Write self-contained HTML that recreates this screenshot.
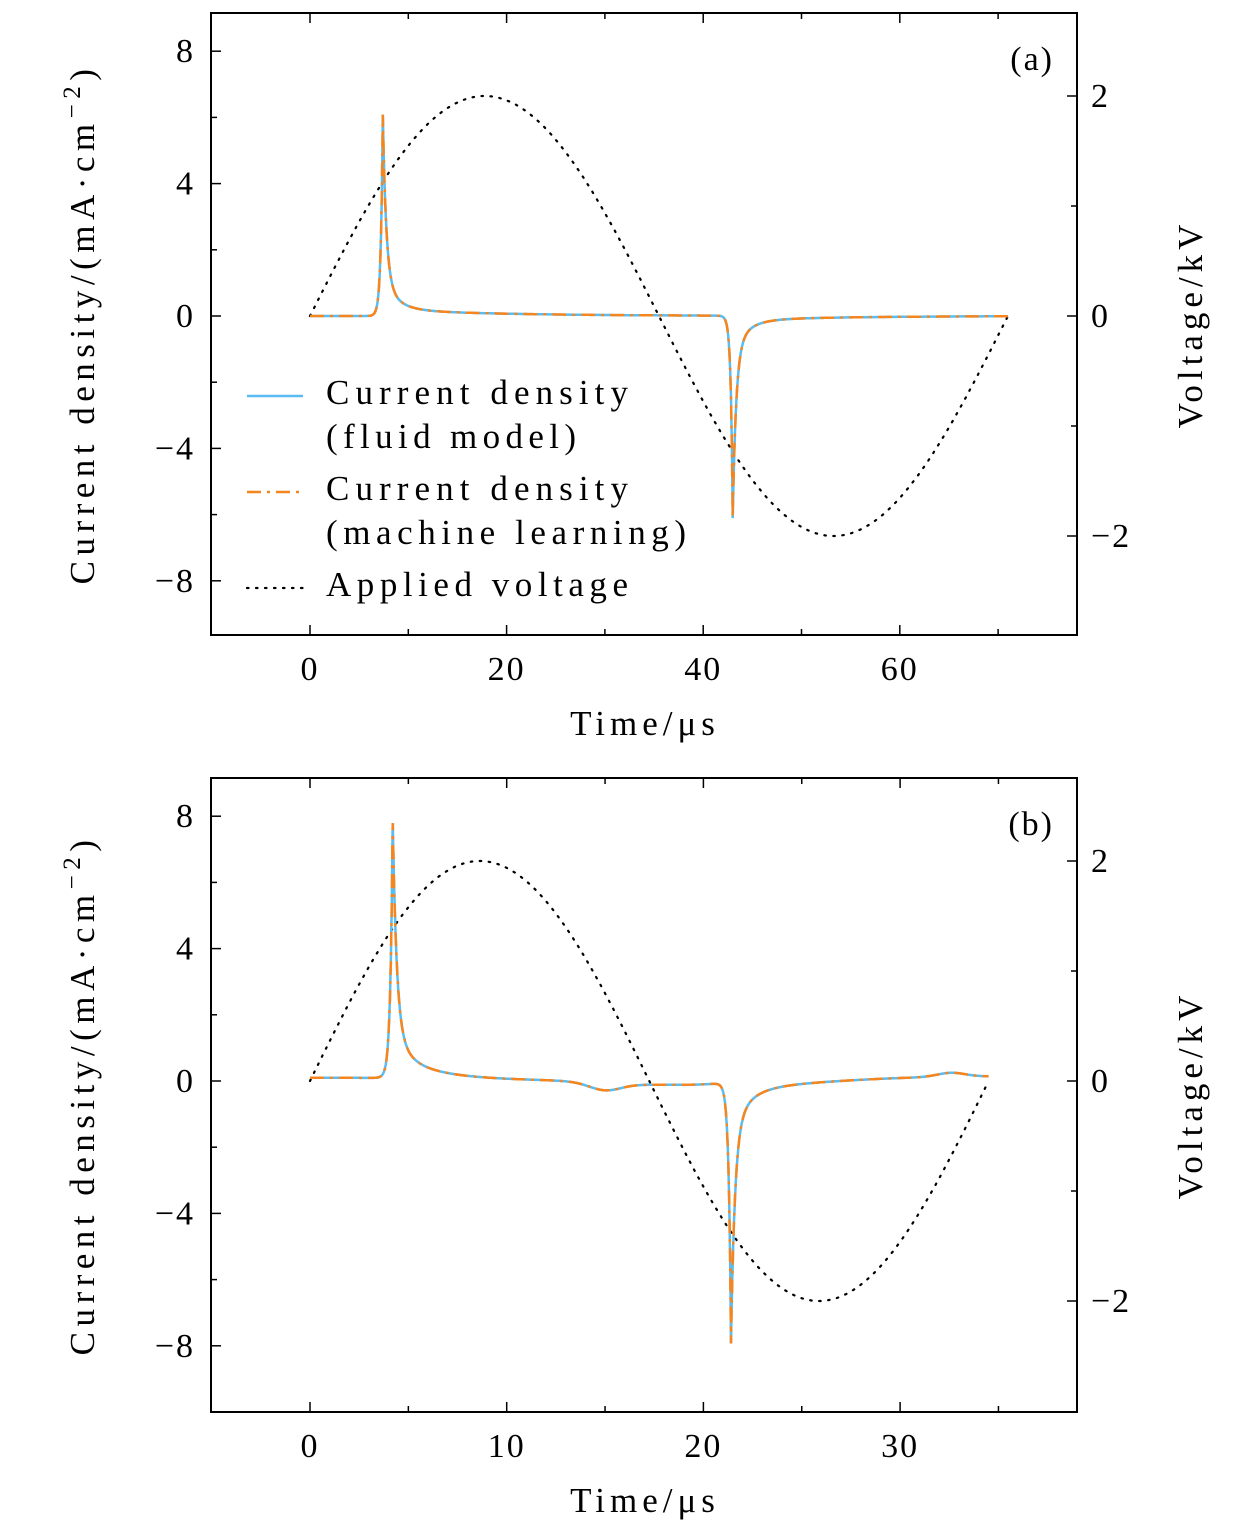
<!DOCTYPE html>
<html><head><meta charset="utf-8"><style>
body{margin:0;background:#fff}
svg text{font-family:"Liberation Serif",serif;fill:#000}
</style></head><body>
<svg id="s" width="1260" height="1530" xmlns="http://www.w3.org/2000/svg"></svg>
<script>
const S=document.getElementById('s');
let h='';
function panel(o){
 const {top,bot,x0,xs,y0,ys,vy,tmax,xt,label,jfun}=o;
 const L=211,R=1077;
 const X=t=>x0+t*xs, Y=j=>y0-j*ys, V=v=>y0-v*vy;
 for(let j=-8;j<=8;j+=2){const y=Y(j);if(y<top||y>bot)continue;const len=j%4==0?10:6;
  h+=`<line x1="${L}" x2="${L+len}" y1="${y}" y2="${y}" stroke="#000" stroke-width="1.5"/>`;
  if(j%4==0)h+=`<text x="${L-16}" y="${y+11}" font-size="34" letter-spacing="2" text-anchor="end">${j<0?'−'+(-j):j}</text>`;}
 for(let v=-2;v<=2;v+=1){const y=V(v);const len=v%2==0?10:6;
  h+=`<line x1="${R}" x2="${R-len}" y1="${y}" y2="${y}" stroke="#000" stroke-width="1.5"/>`;
  if(v%2==0)h+=`<text x="${R+14}" y="${y+11}" font-size="34" letter-spacing="2">${v<0?'−'+(-v):v}</text>`;}
 for(let t=0;X(t)<R;t+=xt/2){const x=X(t);const maj=Math.round(t/xt*2)%2==0;const len=maj?10:6;
  h+=`<line x1="${x}" x2="${x}" y1="${bot}" y2="${bot-len}" stroke="#000" stroke-width="1.5"/>`;
  h+=`<line x1="${x}" x2="${x}" y1="${top}" y2="${top+len}" stroke="#000" stroke-width="1.5"/>`;
  if(maj)h+=`<text x="${x}" y="${bot+45}" font-size="34" letter-spacing="2" text-anchor="middle">${t}</text>`;}
 h+=`<rect x="${L}" y="${top}" width="${R-L}" height="${bot-top}" fill="none" stroke="#000" stroke-width="2"/>`;
 let d='';for(let i=0;i<=600;i++){const t=tmax*i/600;d+=(i?'L':'M')+X(t).toFixed(1)+','+V(2*Math.sin(2*Math.PI*t/tmax)).toFixed(1);}
 h+=`<path d="${d}" fill="none" stroke="#000" stroke-width="2.2" stroke-dasharray="1.5,7.5" stroke-linecap="round"/>`;
 d='';for(let i=0;i<=3000;i++){const t=tmax*i/3000;d+=(i?'L':'M')+X(t).toFixed(1)+','+Y(jfun(t)).toFixed(1);}
 h+=`<path d="${d}" fill="none" stroke="#5bbcf0" stroke-width="2.5"/>`;
 h+=`<path d="${d}" fill="none" stroke="#f5861f" stroke-width="2.5" stroke-dasharray="14,6,3,6"/>`;
 h+=`<text x="1054" y="${top+57}" font-size="34" letter-spacing="2" text-anchor="end">${label}</text>`;
 const cy=(top+bot)/2;
 h+=`<text transform="translate(94,${cy}) rotate(-90)" font-size="35" text-anchor="middle" letter-spacing="5.5">Current density/(mA·cm<tspan dy="-14" font-size="25">−2</tspan><tspan dy="14">)</tspan></text>`;
 h+=`<text transform="translate(1202,${cy}) rotate(-90)" font-size="35" text-anchor="middle" letter-spacing="5">Voltage/kV</text>`;
 h+=`<text x="645" y="${bot+100}" font-size="35" text-anchor="middle" letter-spacing="5">Time/μs</text>`;
}
function spike(t,t0,A,r,dk){const u=t-t0;return u<0?A*Math.exp(u/r):A*(0.85*Math.exp(-u/dk)+0.15*Math.exp(-u/(dk*4)));}
function sm(x){return 1/(1+Math.exp(-x));}
panel({top:13,bot:635,x0:310,xs:9.83,y0:316,ys:33.1,vy:110,tmax:71,xt:20,label:'(a)',
 jfun:t=>{let j=0;j+=spike(t,7.4,6,0.2,0.35);if(t>7.4)j+=0.2*Math.exp(-(t-7.4)/12);j+=spike(t,43,-6,0.2,0.35);if(t>43)j-=0.15*Math.exp(-(t-43)/10);return j;}});
panel({top:778,bot:1412,x0:310,xs:19.67,y0:1081,ys:33.1,vy:110,tmax:34.5,xt:10,label:'(b)',
 jfun:t=>{let j=0.1;j+=spike(t,4.2,7.6,0.12,0.2);if(t>4.2)j+=0.4*Math.exp(-(t-4.2)/3);j-=0.1*sm((t-7)/1.5);j-=0.2*Math.exp(-Math.pow((t-15),2)/1.2);j-=0.12*sm((t-14)/0.8)*(1-sm((t-21)/0.5));j+=spike(t,21.4,-7.6,0.12,0.2);if(t>21.4)j-=0.35*Math.exp(-(t-21.4)/3);j+=0.15*sm((t-28)/2);j+=0.12*Math.exp(-Math.pow((t-32.6),2)/1.0);return j;}});
h+=`<line x1="247" x2="303" y1="396" y2="396" stroke="#5bbcf0" stroke-width="2.5"/>`;
h+=`<line x1="247" x2="303" y1="492" y2="492" stroke="#f5861f" stroke-width="2.5" stroke-dasharray="14,6,3,6"/>`;
h+=`<line x1="247" x2="303" y1="588" y2="588" stroke="#000" stroke-width="2.2" stroke-dasharray="1.5,7.5" stroke-linecap="round"/>`;
[['Current density',404,302],['(fluid model)',448,250],['Current density',500,302],['(machine learning)',544,360],['Applied voltage',596,302]].forEach(a=>{h+=`<text x="326" y="${a[1]}" font-size="35" textLength="${a[2]}" lengthAdjust="spacing">${a[0]}</text>`;});
S.innerHTML=h;
</script>
</body></html>
